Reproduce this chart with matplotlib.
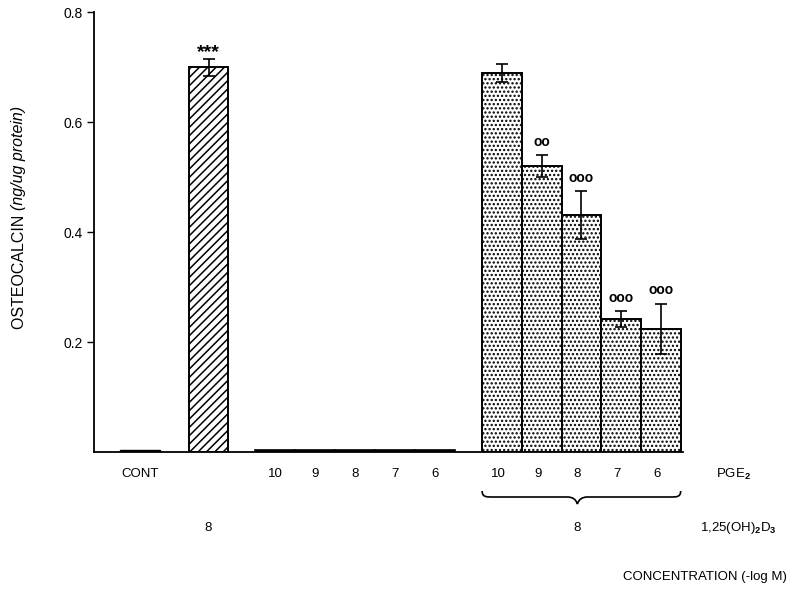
import matplotlib
matplotlib.use("Agg")
import matplotlib.pyplot as plt
from matplotlib.path import Path
from matplotlib.patches import PathPatch
import matplotlib.transforms as mtransforms

plt.rcParams['font.family'] = ['Liberation Sans', 'DejaVu Sans']
plt.rcParams['mathtext.fontset'] = 'custom'
plt.rcParams['mathtext.rm'] = 'Liberation Sans'
plt.rcParams['mathtext.it'] = 'Liberation Sans:italic'
plt.rcParams['mathtext.bf'] = 'Liberation Sans:bold'
plt.rcParams['hatch.linewidth'] = 1.1

# ---- data ----
cont_label = "CONT"
cont_value = 0.003
d3_value = 0.70
d3_err = 0.015
d3_sig = "***"

pge_labels = ["10", "9", "8", "7", "6"]
pge_alone_values = [0.004, 0.004, 0.004, 0.004, 0.004]
pge_d3_values = [0.69, 0.52, 0.431, 0.242, 0.224]
pge_d3_errors = [0.016, 0.02, 0.044, 0.015, 0.046]
pge_d3_sig = ["", "oo", "ooo", "ooo", "ooo"]

yticks = [0.2, 0.4, 0.6, 0.8]

# ---- layout (x in pixel-like units from left spine) ----
W, H = 811, 596
fig = plt.figure(figsize=(W / 100, H / 100), dpi=100)
ax_left, ax_right, ax_top, ax_bot = 94, 683, 12.3, 452
ax = fig.add_axes([ax_left / W, 1 - ax_bot / H, (ax_right - ax_left) / W, (ax_bot - ax_top) / H])

cont_x, cont_w = 46, 40
d3_x, d3_w = 114.5, 39
alone_x = [181 + 40 * i for i in range(5)]
alone_w = 40
combo_x = [408 + 39.7 * i for i in range(5)]
combo_w = 39.7

lw = 1.4
ax.bar(cont_x, cont_value, cont_w, color='black', edgecolor='black', linewidth=1.0)
ax.bar(alone_x, pge_alone_values, alone_w, color='black', edgecolor='black', linewidth=1.2)
ax.bar(d3_x, d3_value, d3_w, color='white', edgecolor='black', hatch='////', linewidth=lw)
ax.bar(combo_x, pge_d3_values, combo_w, color='white', edgecolor='black', hatch='....', linewidth=lw)

ax.errorbar([d3_x], [d3_value], yerr=[d3_err], fmt='none', ecolor='black', elinewidth=1.2, capsize=4, capthick=1.2)
ax.errorbar(combo_x, pge_d3_values, yerr=pge_d3_errors, fmt='none', ecolor='black', elinewidth=1.2, capsize=4, capthick=1.2)

off = 0.024
ax.text(d3_x, d3_value + d3_err + off - 0.012, d3_sig, ha='center', va='center', fontsize=14, fontweight='bold')
for x, v, e, s in zip(combo_x, pge_d3_values, pge_d3_errors, pge_d3_sig):
    if s:
        ax.text(x, v + e + off, s, ha='center', va='center', fontsize=10, fontweight='bold')

ax.set_xlim(0, ax_right - ax_left)
ax.set_ylim(0, 0.8)
ax.set_yticks(yticks)
ax.set_yticklabels([f"{t:.1f}" for t in yticks], fontsize=10)
ax.set_xticks([])
ax.tick_params(axis='y', direction='out', length=5, width=1.0, pad=3)
for s in ['top', 'right']:
    ax.spines[s].set_visible(False)
ax.spines['left'].set_linewidth(1.3)
ax.spines['bottom'].set_linewidth(1.3)

def fy(py):
    return 1 - py / H

# y label in two parts (upright + italic)
ylab_fs = 11.5
t1 = fig.text(19 / W, fy(329), "OSTEOCALCIN ", rotation=90, rotation_mode='anchor',
              ha='left', va='center', fontsize=ylab_fs)
fig.canvas.draw()
bb = t1.get_window_extent(fig.canvas.get_renderer())
fig.text(19 / W, bb.y1 / H, "(ng/ug protein)", rotation=90, rotation_mode='anchor',
         ha='left', va='center', fontsize=ylab_fs, fontstyle='italic')

# bottom annotations: x in data, y in figure pixels
trans = mtransforms.blended_transform_factory(ax.transData, fig.transFigure)

fs = 9.5
row1 = 474
ax.text(cont_x, fy(row1), cont_label, transform=trans, ha='center', va='center', fontsize=fs)
for x, lab in zip(alone_x, pge_labels):
    ax.text(x, fy(row1), lab, transform=trans, ha='center', va='center', fontsize=fs)
for x, lab in zip(combo_x, pge_labels):
    ax.text(x - 4, fy(row1), lab, transform=trans, ha='center', va='center', fontsize=fs)
fig.text(716 / W, fy(row1), r'PGE$_\mathbf{2}$', ha='left', va='center', fontsize=fs)

# brace
x0 = combo_x[0] - combo_w / 2
x1 = combo_x[-1] + combo_w / 2
xm = combo_x[2] - 4
yt, yb, ytip = fy(491), fy(497), fy(504)
verts = [(x0, yt), (x0, yb), (x0 + 4, yb), (x0 + 10, yb),
         (xm - 10, yb), (xm - 2, yb), (xm, ytip),
         (xm + 2, yb), (xm + 10, yb), (x1 - 10, yb),
         (x1 - 4, yb), (x1, yb), (x1, yt)]
codes = [Path.MOVETO, Path.CURVE4, Path.CURVE4, Path.CURVE4,
         Path.LINETO, Path.CURVE3, Path.CURVE3,
         Path.CURVE3, Path.CURVE3, Path.LINETO,
         Path.CURVE4, Path.CURVE4, Path.CURVE4]
ax.add_patch(PathPatch(Path(verts, codes), transform=trans, fill=False, edgecolor='black',
                       linewidth=1.2, clip_on=False))

row2 = 528
ax.text(d3_x, fy(row2), "8", transform=trans, ha='center', va='center', fontsize=fs)
ax.text(xm, fy(row2), "8", transform=trans, ha='center', va='center', fontsize=fs)
fig.text(700 / W, fy(row2), r'1,25(OH)$_\mathbf{2}$D$_\mathbf{3}$', ha='left', va='center', fontsize=fs)

fig.text(623 / W, fy(577), "CONCENTRATION (-log M)", ha='left', va='center', fontsize=fs)

fig.savefig("out.png", dpi=100)
